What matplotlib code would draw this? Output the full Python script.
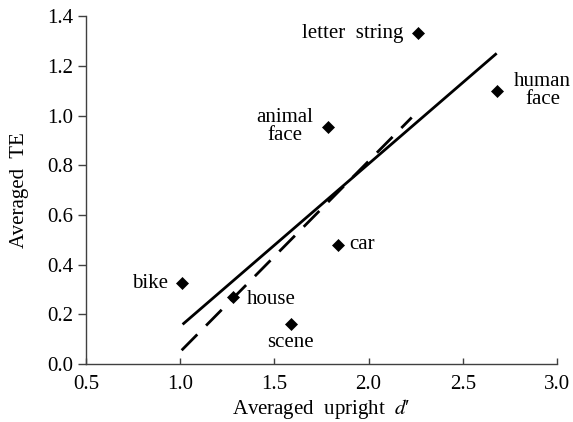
import numpy as np
import matplotlib
matplotlib.use('Agg')
import matplotlib.pyplot as plt

plt.rcParams['font.family'] = ['Liberation Serif', 'DejaVu Serif']
plt.rcParams['mathtext.fontset'] = 'stix'

# category scatter values
categories = ['letter  string', 'human\nface', 'animal\nface', 'car', 'bike', 'house', 'scene']
upright_d = [2.265, 2.68, 1.786, 1.84, 1.01, 1.282, 1.587]
averaged_te = [1.33, 1.10, 0.955, 0.48, 0.325, 0.27, 0.16]

# label placement (offset in points, alignment)
label_offsets = [(-11, 0, 'right', 'center'),
                 (33, 0, 'center', 'center'),
                 (-11, 0, 'right', 'center'),
                 (8, 0, 'left', 'center'),
                 (-10, 0, 'right', 'center'),
                 (10, -2, 'left', 'center'),
                 (0, -13, 'center', 'center')]

# fitted lines (end points)
solid_x = [1.013, 2.68]
solid_y = [0.16, 1.25]
dashed_x = [1.008, 2.229]
dashed_y = [0.056, 0.992]

fig = plt.figure(figsize=(5.73, 4.22), dpi=100)
ax = fig.add_axes([0.150, 0.137, 0.822, 0.825])

ax.plot(solid_x, solid_y, color='black', linewidth=2.0, solid_capstyle='butt')
ax.plot(dashed_x, dashed_y, color='black', linewidth=2.0, dashes=(8, 4.5), dash_capstyle='butt')
ax.plot(upright_d, averaged_te, linestyle='none', marker='D', markersize=6,
        color='black', markeredgewidth=0.5)

for name, x, y, (dx, dy, ha, va) in zip(categories, upright_d, averaged_te, label_offsets):
    ax.annotate(name, (x, y), xytext=(dx, dy), textcoords='offset points',
                ha=ha, va=va, multialignment='center', fontsize=15, linespacing=0.95)

ax.set_xlim(0.5, 3.0)
ax.set_ylim(0.0, 1.4)
ax.set_xticks(np.arange(0.5, 3.01, 0.5))
ax.set_yticks(np.arange(0.0, 1.41, 0.2))
ax.xaxis.set_major_formatter(matplotlib.ticker.FormatStrFormatter('%.1f'))
ax.yaxis.set_major_formatter(matplotlib.ticker.FormatStrFormatter('%.1f'))

for side in ['top', 'right']:
    ax.spines[side].set_visible(False)
for side in ['left', 'bottom']:
    ax.spines[side].set_linewidth(1.0)
    ax.spines[side].set_color('#404040')

ax.tick_params(axis='x', direction='in', length=4, width=1.0, color='#404040',
               labelsize=15, pad=8)
ax.tick_params(axis='y', direction='out', length=6, width=1.0, color='#404040',
               labelsize=15, pad=3)

ax.set_xlabel("Averaged  upright  $d$\u2032", fontsize=15, labelpad=2)
ax.set_ylabel('Averaged  TE', fontsize=15, labelpad=13)

plt.savefig('out.png', dpi=100)
plt.close()
